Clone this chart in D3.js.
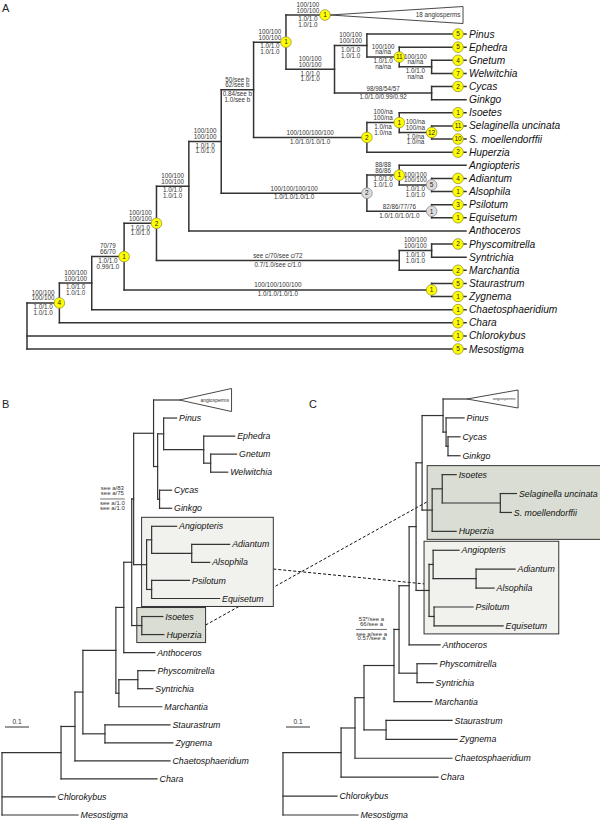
<!DOCTYPE html>
<html>
<head>
<meta charset="utf-8">
<script src="https://cdn.jsdelivr.net/npm/d3@7"></script>
<style>
  body { margin: 0; background: #fff; }
  svg { display: block; font-family: "Liberation Sans", Arial, sans-serif; }
  .branch line { stroke: #333; stroke-linecap: square; }
  .tip { font-style: italic; fill: #111; }
</style>
</head>
<body>
<svg width="600" height="822"></svg>
<script>
// Trees in Newick. Panel A is a cladogram (lengths in columns, tips aligned),
// B and C are phylograms (substitutions per site). "#" marks a collapsed clade.
const treeA = "(((((((((#18 angiosperms:1.36,((Pinus,(Ephedra,(Gnetum,Welwitchia)n12:1)n11:1)n10:1,(Cycas,Ginkgo)n13:3)n9:1.5)n8:1,((Isoetes,(Selaginella uncinata,S. moellendorffii)l3:1)l2:1,Huperzia)l1:3.5)n7:1,((Angiopteris,(Adiantum,Alsophila)f3:1)f2:1,(Psilotum,Equisetum)f4:2)f1:4.5)n6:1,Anthoceros)n5:1,((Physcomitrella,Syntrichia)ps:1,Marchantia)moss:7.5)n4:1,(Staurastrum,Zygnema)sz:9.5)n3:1,Chaetosphaeridium)n2:1,Chara)n1:1,Chlorokybus,Mesostigma);";

const treeB = "(((((((((#angiosperms:0.108,((Pinus:0.054,(Ephedra:0.129,(Gnetum:0.108,Welwitchia:0.071):0.029):0.167):0.025,(Cycas:0.05,Ginkgo:0.05):0.008):0.017):0.083,((Angiopteris:0.104,(Adiantum:0.158,Alsophila:0.075):0.167):0.021,(Psilotum:0.158,Equisetum:0.283):0.021)ferns:0.054)sup:0.008,(Isoetes:0.0875,Huperzia:0.092)lyco:0.042):0.033,Anthoceros:0.129):0.033,((Physcomitrella:0.071,Syntrichia:0.0625):0.079,Marchantia:0.179):0.0125):0.1375,(Staurastrum:0.271,Zygnema:0.283):0.092):0.033,Chaetosphaeridium:0.396):0.058,Chara:0.40):0.246,Chlorokybus:0.221,Mesostigma:0.317);";

const treeC = "((((((((((#angiosperms:0.1,(Pinus:0.075,(Cycas:0.05,Ginkgo:0.05):0.008):0.0125):0.0875,((Isoetes:0.058,(Selaginella uncinata:0.067,S. moellendorffii:0.046):0.242):0.042,Huperzia:0.1)lyco:0.042):0.025,((Angiopteris:0.108,(Adiantum:0.1625,Alsophila:0.075):0.179):0.017,(Psilotum:0.1625,Equisetum:0.2875):0.021)ferns:0.054):0.029,Anthoceros:0.129):0.042,(Physcomitrella:0.083,Syntrichia:0.067):0.075)sup:0.021,Marchantia:0.158):0.125,(Staurastrum:0.275,Zygnema:0.296):0.092):0.0375,Chaetosphaeridium:0.404):0.058,Chara:0.404):0.242,Chlorokybus:0.225,Mesostigma:0.3125);";

const tipColumnA = 13.5;
const cladeGapA = 1.45;
const cladeDepthB = 0.217;
const cladeDepthC = 0.2125;
const scaleBar = 0.1;

// support values on the branch leading to a node: [node, above, below]
const supportA = [
  ["n1", ["100/100", "100/100"], ["1.0/1.0", "1.0/1.0"]],
  ["n2", ["100/100", "100/100"], ["1.0/1.0", "1.0/1.0"]],
  ["n3", ["70/79", "66/70"], ["1.0/1.0", "0.99/1.0"]],
  ["n4", ["100/100", "100/100"], ["1.0/1.0", "1.0/1.0"]],
  ["n5", ["100/100", "100/100"], ["1.0/1.0", "1.0/1.0"]],
  ["n6", ["100/100", "100/100"], ["1.0/1.0", "1.0/1.0"]],
  ["n7", ["50/see b", "62/see b"], ["0.84/see b", "1.0/see b"]],
  ["n8", ["100/100", "100/100"], ["1.0/1.0", "1.0/1.0"]],
  ["#18 angiosperms", ["100/100", "100/100"], ["1.0/1.0", "1.0/1.0"]],
  ["n9", ["100/100", "100/100"], ["1.0/1.0", "1.0/1.0"]],
  ["n10", ["100/100", "100/100"], ["1.0/1.0", "1.0/1.0"]],
  ["n11", ["100/100", "na/na"], ["1.0/1.0", "na/na"]],
  ["n12", ["100/100", "na/na"], ["1.0/1.0", "na/na"]],
  ["n13", ["98/98/54/57"], ["1.0/1.0/0.99/0.92"]],
  ["l1", ["100/100/100/100"], ["1.0/1.0/1.0/1.0"]],
  ["l2", ["100/na", "100/na"], ["1.0/na", "1.0/na"]],
  ["l3", ["100/na", "100/na"], ["1.0/na", "1.0/na"]],
  ["f1", ["100/100/100/100"], ["1.0/1.0/1.0/1.0"]],
  ["f2", ["88/88", "86/86"], ["1.0/1.0", "1.0/1.0"]],
  ["f3", ["100/100", "100/100"], ["1.0/1.0", "1.0/1.0"]],
  ["f4", ["82/86/77/76"], ["1.0/1.0/1.0/1.0"]],
  ["moss", ["see c/70/see c/72"], ["0.7/1.0/see c/1.0"]],
  ["ps", ["100/100", "100/100"], ["1.0/1.0", "1.0/1.0"]],
  ["sz", ["100/100/100/100"], ["1.0/1.0/1.0/1.0"]]
];
const supportB = ["sup", ["see a/83", "see a/75"], ["see a/1.0", "see a/1.0"]];
const supportC = ["sup", ["53*/see a", "66/see a"], ["see a/see a", "0.57/see a"]];

// counts in the circles
const nodeCountsA = [["#18 angiosperms", 1], ["n8", 1], ["n11", 11], ["l1", 2], ["l2", 1], ["l3", 12],
  ["f1", 2], ["f2", 1], ["f3", 5], ["f4", 1], ["sz", 1], ["n4", 2], ["n3", 1], ["n1", 4]];
const tipCountsA = [["Pinus", 5], ["Ephedra", 5], ["Gnetum", 4], ["Welwitchia", 7], ["Cycas", 2],
  ["Isoetes", 1], ["Selaginella uncinata", 11], ["S. moellendorffii", 10], ["Huperzia", 2],
  ["Adiantum", 4], ["Alsophila", 1], ["Psilotum", 3], ["Equisetum", 1], ["Physcomitrella", 2],
  ["Marchantia", 2], ["Staurastrum", 5], ["Zygnema", 1], ["Chaetosphaeridium", 1], ["Chara", 1],
  ["Chlorokybus", 1], ["Mesostigma", 5]];
const greyNodesA = ["f1", "f3", "f4"];

// boxed clades in B and C, linked with dashed lines
const boxedClades = ["ferns", "lyco"];
const boxFills = ["#f1f2ee", "#d9ddd3"];
const linkFrac = [[0.58, 0.46], [0.5, 0.49]];

// kleine newick parser
function parseNewick(str) {
  let i = 0;
  function node() {
    const n = { children: [] };
    if (str[i] === "(") {
      i++;
      n.children.push(node());
      while (str[i] === ",") { i++; n.children.push(node()); }
      i++;
    }
    let name = "";
    while (i < str.length && !"(),:;".includes(str[i])) name += str[i++];
    n.name = name.trim();
    if (str[i] === ":") {
      i++;
      let len = "";
      while (i < str.length && !"(),;".includes(str[i])) len += str[i++];
      n.length = +len;
    }
    if (!n.children.length) delete n.children;
    return n;
  }
  return node();
}

const isClade = d => d.data.name.startsWith("#");
const labelOf = d => d.data.name.replace("#", "");
const byName = (root, n) => root.descendants().find(d => d.data.name === n);

function build(newick, tipCol, gap) {
  const root = d3.hierarchy(parseNewick(newick));
  root.eachBefore(d => {
    if (!d.parent) d.dist = 0;
    else if (d.data.length === undefined) d.dist = tipCol;
    else d.dist = d.parent.dist + d.data.length;
  });
  let pos = 0, prev = null;
  root.leaves().forEach(d => {
    if (prev) pos += (isClade(prev) || isClade(d)) ? gap : 1;
    d.slot = pos;
    prev = d;
  });
  root.eachAfter(d => {
    if (d.children) d.slot = (d.children[0].slot + d.children[d.children.length - 1].slot) / 2;
  });
  return root;
}

function drawTree(g, root, x, y, o) {
  const edges = g.append("g").attr("class", "branch").attr("stroke-width", o.lw);
  edges.selectAll("line.h")
    .data(root.descendants().filter(d => d.parent))
    .join("line")
    .attr("class", "h")
    .attr("x1", d => x(d.parent.dist))
    .attr("x2", d => x(d.dist) + (d.children || isClade(d) ? 0 : o.tipPad))
    .attr("y1", d => y(d.slot))
    .attr("y2", d => y(d.slot));
  edges.selectAll("line.v")
    .data(root.descendants().filter(d => d.children))
    .join("line")
    .attr("class", "v")
    .attr("x1", d => x(d.dist))
    .attr("x2", d => x(d.dist))
    .attr("y1", d => y(d.children[0].slot))
    .attr("y2", d => y(d.children[d.children.length - 1].slot));

  // ingeklapte clade als driehoek
  const clades = root.leaves().filter(isClade);
  g.selectAll("path.clade")
    .data(clades)
    .join("path")
    .attr("class", "clade")
    .attr("d", d => {
      const x0 = x(d.dist), x1 = x(o.triEnd(d)), yc = y(d.slot);
      return `M${x0},${yc}L${x1},${yc - o.triHalf}L${x1},${yc + o.triHalf}Z`;
    })
    .attr("fill", "#fff")
    .attr("stroke", "#333")
    .attr("stroke-width", 0.9);
  g.selectAll("text.clade")
    .data(clades)
    .join("text")
    .attr("class", "clade")
    .attr("x", d => x(o.triEnd(d)) - 2.5)
    .attr("y", d => y(d.slot) + o.triFont * 0.35)
    .attr("text-anchor", "end")
    .attr("font-size", o.triFont)
    .attr("fill", "#333")
    .text(labelOf);

  const tips = g.append("g")
    .selectAll("text")
    .data(root.leaves().filter(d => !isClade(d)))
    .join("text")
    .attr("class", "tip")
    .attr("x", d => x(d.dist) + o.labelGap)
    .attr("y", d => y(d.slot) + o.font * 0.35)
    .attr("font-size", o.font)
    .text(labelOf);
  return tips;
}

const svg = d3.select("svg");
const dashLayer = svg.append("g");
const boxLayer = svg.append("g");

// ---------- A ----------
const rootA = build(treeA, tipColumnA, cladeGapA);
const xA = d3.scaleLinear().domain([0, tipColumnA]).range([27, 464]);
const yA = d3.scaleLinear().domain([0, d3.max(rootA.leaves(), d => d.slot)]).range([15, 349]);
const gA = svg.append("g");
drawTree(gA, rootA, xA, yA, {
  lw: 1.5, tipPad: 2, labelGap: 5, font: 10.2,
  triEnd: () => tipColumnA - 0.03, triHalf: 8.5, triFont: 6.3
});

const supA = gA.append("g").attr("font-size", 6.3).attr("fill", "#333").attr("text-anchor", "middle");
supportA.forEach(([n, above, below]) => {
  const d = byName(rootA, n);
  const cx = (xA(d.parent.dist) + xA(d.dist)) / 2;
  const cy = yA(d.slot);
  supA.selectAll(null).data(above).join("text")
    .attr("x", cx)
    .attr("y", (t, i) => cy - 2.5 - (above.length - 1 - i) * 5.7)
    .text(t => t);
  supA.selectAll(null).data(below).join("text")
    .attr("x", cx)
    .attr("y", (t, i) => cy + 6.3 + i * 5.7)
    .text(t => t);
});

const spots = nodeCountsA.map(([n, c]) => {
  const d = byName(rootA, n);
  return { x: isClade(d) ? xA(d.dist) - 5 : xA(d.dist), y: yA(d.slot), c, grey: greyNodesA.includes(n) };
}).concat(tipCountsA.map(([n, c]) => {
  const d = byName(rootA, n);
  return { x: xA(d.dist) - 6, y: yA(d.slot), c, grey: false };
}));
const circ = gA.append("g");
circ.selectAll("circle")
  .data(spots)
  .join("circle")
  .attr("cx", d => d.x)
  .attr("cy", d => d.y)
  .attr("r", 5.3)
  .attr("fill", d => d.grey ? "#dcdcdc" : "#ffff00")
  .attr("stroke", d => d.grey ? "#888" : "#9a9630")
  .attr("stroke-width", 0.8);
circ.selectAll("text")
  .data(spots)
  .join("text")
  .attr("x", d => d.x)
  .attr("y", d => d.y + 2.3)
  .attr("text-anchor", "middle")
  .attr("font-size", 6.5)
  .attr("fill", "#222")
  .text(d => d.c);

// ---------- B en C ----------
const rootB = build(treeB, 0, 1);
const xB = d3.scaleLinear().domain([0, 1]).range([2, 242]);
const yB = d3.scaleLinear().domain([0, d3.max(rootB.leaves(), d => d.slot)]).range([400, 815]);
const gB = svg.append("g");
const tipsB = drawTree(gB, rootB, xB, yB, {
  lw: 1.2, tipPad: 0, labelGap: 2.5, font: 8.8,
  triEnd: d => d.dist + cladeDepthB, triHalf: 11.5, triFont: 5
});

const rootC = build(treeC, 0, 1);
const xC = d3.scaleLinear().domain([0, 1]).range([283, 523]);
const yC = d3.scaleLinear().domain([0, d3.max(rootC.leaves(), d => d.slot)]).range([399, 815]);
const gC = svg.append("g");
const tipsC = drawTree(gC, rootC, xC, yC, {
  lw: 1.2, tipPad: 0, labelGap: 2.5, font: 8.8,
  triEnd: d => d.dist + cladeDepthC, triHalf: 9, triFont: 4
});

function drawSupport(g, root, x, y, [n, above, below]) {
  const d = byName(root, n);
  const right = x(d.parent.dist) - 7, cy = y(d.slot);
  const t = g.append("g").attr("font-size", 6).attr("fill", "#333").attr("text-anchor", "middle");
  t.selectAll(null).data(above).join("text")
    .attr("y", (s, i) => cy - 3.9 - (above.length - 1 - i) * 4.8).text(s => s);
  t.selectAll(null).data(below).join("text")
    .attr("y", (s, i) => cy + 6.1 + i * 4.8).text(s => s);
  const w = d3.max(t.selectAll("text").nodes(), e => e.getComputedTextLength());
  t.selectAll("text").attr("x", right - w / 2);
  t.append("line")
    .attr("x1", right - w).attr("x2", right)
    .attr("y1", cy).attr("y2", cy)
    .attr("stroke", "#333").attr("stroke-width", 0.7);
}
drawSupport(gB, rootB, xB, yB, supportB);
drawSupport(gC, rootC, xC, yC, supportC);

function cladeBox(root, x, y, tips, name) {
  const d = byName(root, name);
  const leaves = d.leaves();
  const names = leaves.map(l => l.data.name);
  const right = d3.max(tips.filter(l => names.includes(l.data.name)).nodes(),
    e => +e.getAttribute("x") + e.getComputedTextLength());
  return {
    x0: x(d.dist) - 5,
    x1: right + 4,
    y0: y(leaves[0].slot) - 9,
    y1: y(leaves[leaves.length - 1].slot) + 8
  };
}

boxedClades.forEach((name, i) => {
  const bb = cladeBox(rootB, xB, yB, tipsB, name);
  const bc = cladeBox(rootC, xC, yC, tipsC, name);
  [bb, bc].forEach(b => {
    boxLayer.append("rect")
      .attr("x", b.x0).attr("y", b.y0)
      .attr("width", b.x1 - b.x0).attr("height", b.y1 - b.y0)
      .attr("fill", boxFills[i]).attr("stroke", "#333").attr("stroke-width", 1);
  });
  dashLayer.append("line")
    .attr("x1", bb.x1).attr("y1", bb.y0 + (bb.y1 - bb.y0) * linkFrac[i][0])
    .attr("x2", bc.x0).attr("y2", bc.y0 + (bc.y1 - bc.y0) * linkFrac[i][1])
    .attr("stroke", "#111").attr("stroke-width", 1).attr("stroke-dasharray", "3,2");
});

// schaalbalk
[[gB, xB], [gC, xC]].forEach(([g, x]) => {
  const x0 = x(0) + 3, len = x(scaleBar) - x(0);
  g.append("line")
    .attr("x1", x0).attr("x2", x0 + len)
    .attr("y1", 727).attr("y2", 727)
    .attr("stroke", "#333").attr("stroke-width", 1);
  g.append("text")
    .attr("x", x0 + len / 2).attr("y", 724)
    .attr("text-anchor", "middle").attr("font-size", 6.5).attr("fill", "#333")
    .text(scaleBar);
});

// paneel letters
svg.selectAll("text.panel")
  .data([["A", 2, 11.5], ["B", 2, 407.5], ["C", 309, 407.5]])
  .join("text")
  .attr("class", "panel")
  .attr("x", d => d[1]).attr("y", d => d[2])
  .attr("font-size", 11).attr("fill", "#222")
  .text(d => d[0]);
</script>
</body>
</html>
